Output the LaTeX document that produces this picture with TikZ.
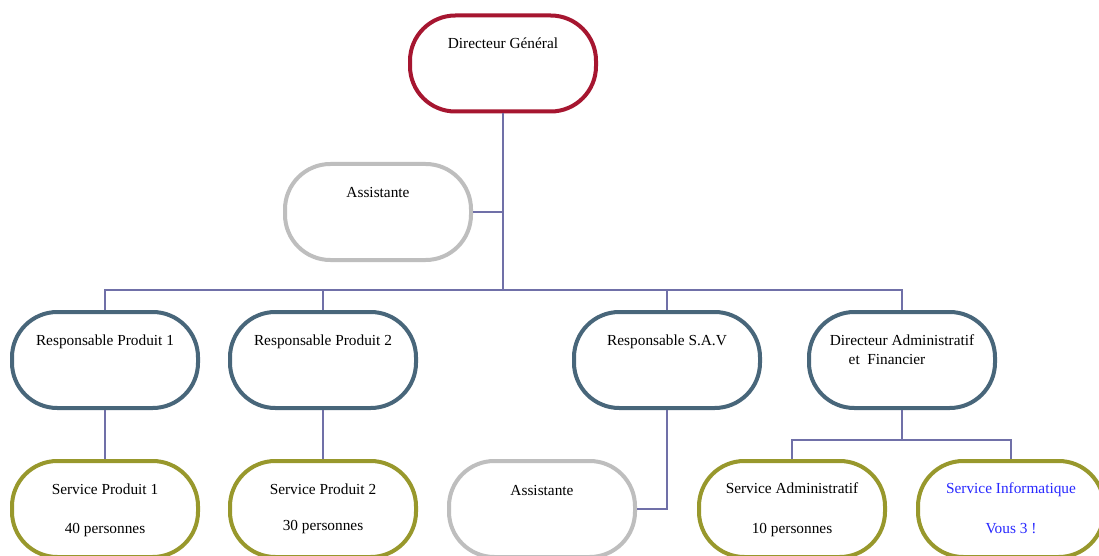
\documentclass[tikz,border=0pt]{standalone}
\usepackage{fontspec}
\setmainfont{Liberation Serif}
\usetikzlibrary{calc}
\definecolor{dgred}{RGB}{166,22,48}
\definecolor{asgray}{RGB}{190,190,190}
\definecolor{slate}{RGB}{72,102,122}
\definecolor{olive}{RGB}{152,152,44}
\definecolor{connc}{RGB}{112,112,168}
\definecolor{infoblue}{RGB}{40,40,255}
\tikzset{
  box/.style={draw, line width=3pt, rounded corners=34pt, minimum width=139.5pt, minimum height=72pt, inner sep=0pt, fill=white},
  redbox/.style={box, draw=dgred},
  graybox/.style={box, draw=asgray},
  slatebox/.style={box, draw=slate},
  olivebox/.style={box, draw=olive},
  conn/.style={draw=connc, line width=1.1pt},
  mainconn/.style={draw=connc, line width=1.6pt},
  txt/.style={anchor=base, inner sep=0pt, font=\fontsize{11.5}{14}\selectfont},
}
\begin{document}
\begin{tikzpicture}[x=0.75pt,y=-0.75pt]
\useasboundingbox[fill=white] (0,0) rectangle (1099,556);
% connector junctions
\coordinate (bus) at (503,290);
\coordinate (dafbus) at (902,440);
% shapes
\node[redbox]   (dg)  at (503,63.5) {};
\node[graybox]  (as1) at (378,212) {};
\node[slatebox] (rp1) at (105,360) {};
\node[slatebox] (rp2) at (323,360) {};
\node[slatebox] (sav) at (667,360) {};
\node[slatebox] (daf) at (902,360) {};
\node[olivebox] (sp1) at (105,509) {};
\node[olivebox] (sp2) at (323,509) {};
\node[graybox]  (as2) at (542,509) {};
\node[olivebox] (sa)  at (792,509) {};
\node[olivebox] (si)  at (1011,509) {};
% connectors
\draw[mainconn] (dg.south) -- (bus);
\draw[conn] (as1.east) -- (as1.east -| bus);
\draw[conn] (rp1.north) |- (daf.north |- bus) -- (daf.north);
\draw[conn] (rp2.north) -- (rp2.north |- bus);
\draw[conn] (sav.north) -- (sav.north |- bus);
\draw[conn] (rp1.south) -- (sp1.north);
\draw[conn] (rp2.south) -- (sp2.north);
\draw[conn] (sav.south) |- (as2.east);
\draw[conn] (daf.south) -- (dafbus);
\draw[conn] (sa.north) |- (dafbus) -| (si.north);
% texts
\node[txt] (dgt)  at ($(dg.north)+(0,35)$) {Directeur Général};
\node[txt] (as1t) at ($(as1.north)+(0,35)$) {Assistante};
\node[txt] (rp1t) at ($(rp1.north)+(0,35)$) {Responsable Produit 1};
\node[txt] (rp2t) at ($(rp2.north)+(0,35)$) {Responsable Produit 2};
\node[txt] (savt) at ($(sav.north)+(0,35)$) {Responsable S.A.V};
\node[txt] (daft1) at ($(daf.north)+(0,35)$) {Directeur Administratif};
\node[txt] (daft2) at ($(daf.north)+(-15,54)$) {et\ \ Financier};
\node[txt] (sp1a) at ($(sp1.north)+(0,35)$) {Service Produit 1};
\node[txt] (sp1b) at ($(sp1.north)+(0,74)$) {40 personnes};
\node[txt] (sp2a) at ($(sp2.north)+(0,35)$) {Service Produit 2};
\node[txt] (sp2b) at ($(sp2.north)+(0,71)$) {30 personnes};
\node[txt] (as2t) at ($(as2.north)+(0,36)$) {Assistante};
\node[txt] (saa)  at ($(sa.north)+(0,34)$) {Service Administratif};
\node[txt] (sab)  at ($(sa.north)+(0,74)$) {10 personnes};
\node[txt, text=infoblue] (sia) at ($(si.north)+(0,34)$) {Service Informatique};
\node[txt, text=infoblue] (sib) at ($(si.north)+(0,74)$) {Vous 3 !};
\end{tikzpicture}
\end{document}
